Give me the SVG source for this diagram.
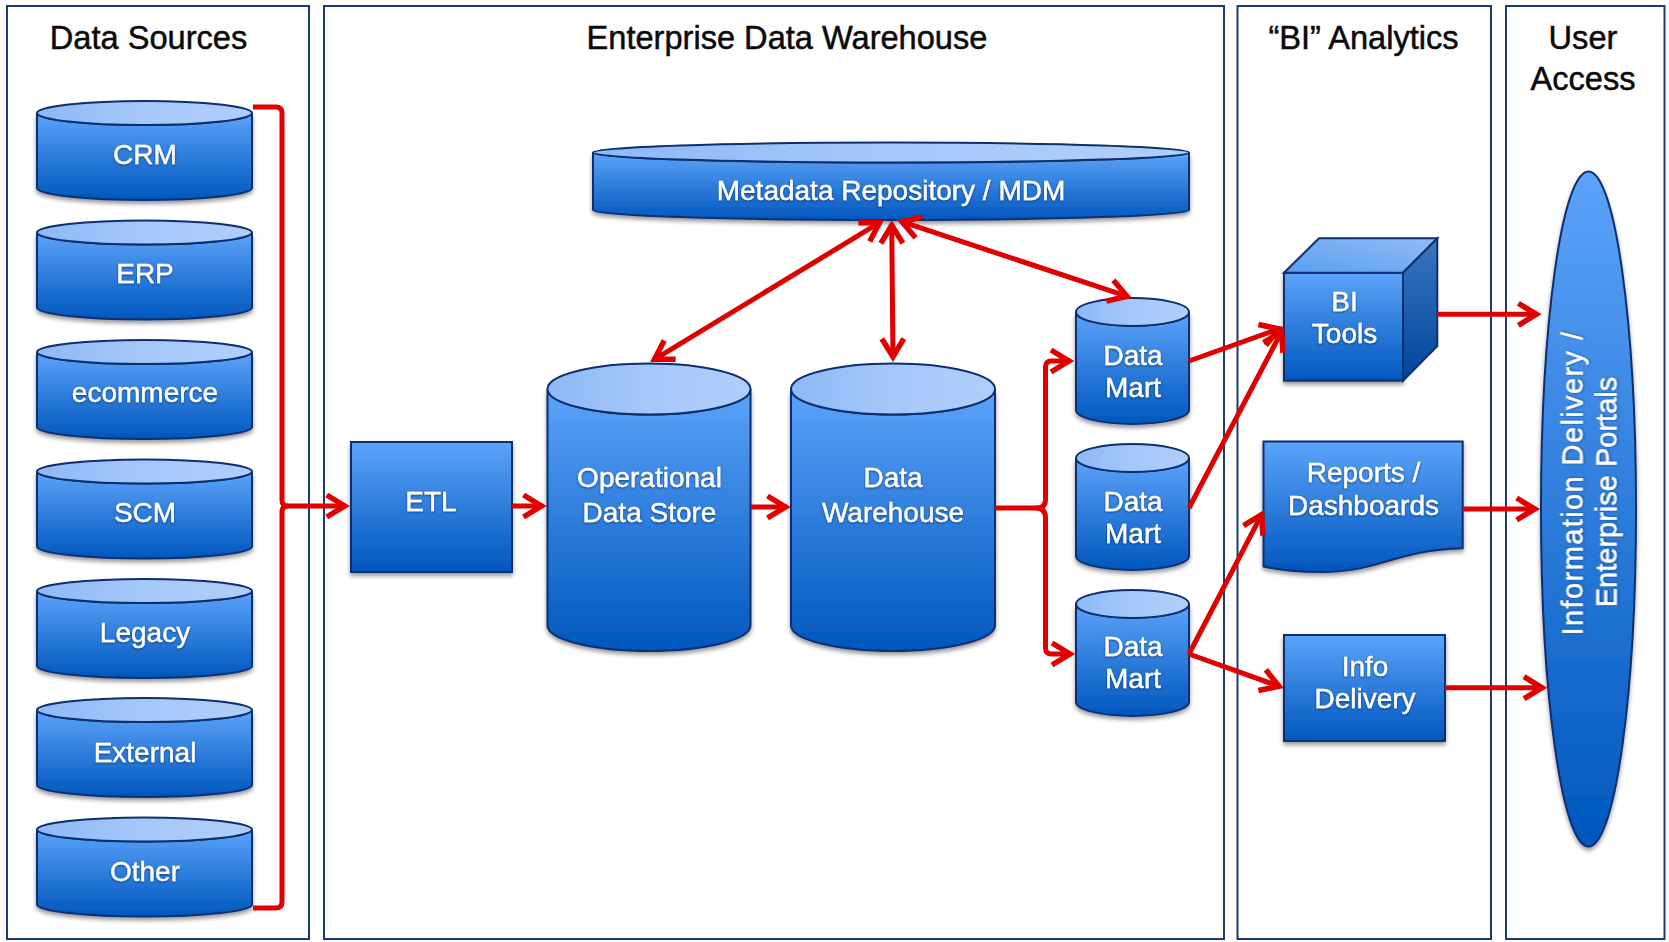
<svg xmlns="http://www.w3.org/2000/svg" width="1669" height="942" viewBox="0 0 1669 942">
<style>
text{font-family:"Liberation Sans",Arial,sans-serif;text-anchor:middle}
.panel{fill:#fff;stroke:#1b3a78;stroke-width:2}
.title{font-size:32.600px;fill:#0a0a0a;stroke:#0a0a0a;stroke-width:.5}
.lbl{font-size:28px;fill:#fff;stroke:#fff;stroke-width:.35;filter:url(#ts)}
.body{fill:url(#bg);stroke:#0d2f70;stroke-width:2;filter:url(#ds)}
.cap{fill:url(#cg);stroke:#0d2f70;stroke-width:2}
.side{fill:url(#sg);stroke:#0d2f70;stroke-width:2}
.top{fill:url(#tg);stroke:#0d2f70;stroke-width:2}
.c{fill:none;stroke:#e00000;stroke-width:5;stroke-linejoin:round}
.a{marker-end:url(#ah)}
.b{marker-end:url(#ah);marker-start:url(#ah)}
</style>
<defs>
<linearGradient id="bg" x1="0" y1="0" x2="0" y2="1"><stop offset="0" stop-color="#5ca3fa"/><stop offset="1" stop-color="#0057bd"/></linearGradient>
<linearGradient id="cg" x1="0" y1="0" x2="1" y2="0"><stop offset="0" stop-color="#8db9f6"/><stop offset=".5" stop-color="#a6c8f9"/><stop offset="1" stop-color="#b0cefa"/></linearGradient>
<linearGradient id="sg" x1="0" y1="0" x2="0" y2="1"><stop offset="0" stop-color="#3b76bf"/><stop offset="1" stop-color="#00459c"/></linearGradient>
<linearGradient id="tg" x1="0" y1="1" x2="1" y2="0"><stop offset="0" stop-color="#5a9ef0"/><stop offset="1" stop-color="#92bcf6"/></linearGradient>
<filter id="ds" x="-10%" y="-10%" width="120%" height="125%"><feDropShadow dx="0" dy="3" stdDeviation="2" flood-color="#000" flood-opacity=".4"/></filter>
<filter id="ts" x="-10%" y="-10%" width="120%" height="130%"><feDropShadow dx="0" dy="1" stdDeviation="1" flood-color="#06306c" flood-opacity=".8"/></filter>
<marker id="ah" viewBox="-20 -14 28 28" markerUnits="userSpaceOnUse" markerWidth="28" markerHeight="28" refX="1" refY="0" orient="auto-start-reverse"><path d="M-18,-11L0,0L-18,11" fill="none" stroke="#e00000" stroke-width="5.500"/></marker>
</defs>
<rect width="1669" height="942" fill="#fff"/>
<g id="panels">
<rect id="panel-sources" class="panel" x="7" y="6" width="302" height="933"/>
<rect id="panel-edw" class="panel" x="324" y="6" width="900" height="933"/>
<rect id="panel-bi" class="panel" x="1237.500" y="6" width="253.500" height="933"/>
<rect id="panel-user" class="panel" x="1506" y="6" width="158.500" height="933"/>
<text class="title" x="148.500" y="49">Data Sources</text>
<text class="title" x="787" y="49">Enterprise Data Warehouse</text>
<text class="title" x="1363.500" y="49">“BI” Analytics</text>
<text class="title" x="1583" y="49">User</text>
<text class="title" x="1583" y="89.500">Access</text>
</g>
<g id="crm"><path class="body" d="M37,113A107.500,12 0 0 0 252,113V188A107.500,12 0 0 1 37,188Z"/><ellipse class="cap" cx="144.500" cy="113" rx="107.500" ry="12"/><text class="lbl" x="145" y="164">CRM</text></g>
<g id="erp"><path class="body" d="M37,232.500A107.500,12 0 0 0 252,232.500V307.500A107.500,12 0 0 1 37,307.500Z"/><ellipse class="cap" cx="144.500" cy="232.500" rx="107.500" ry="12"/><text class="lbl" x="145" y="283">ERP</text></g>
<g id="ecommerce"><path class="body" d="M37,352A107.500,12 0 0 0 252,352V427A107.500,12 0 0 1 37,427Z"/><ellipse class="cap" cx="144.500" cy="352" rx="107.500" ry="12"/><text class="lbl" x="145" y="402">ecommerce</text></g>
<g id="scm"><path class="body" d="M37,471.500A107.500,12 0 0 0 252,471.500V546.500A107.500,12 0 0 1 37,546.500Z"/><ellipse class="cap" cx="144.500" cy="471.500" rx="107.500" ry="12"/><text class="lbl" x="145" y="522">SCM</text></g>
<g id="legacy"><path class="body" d="M37,591A107.500,12 0 0 0 252,591V666A107.500,12 0 0 1 37,666Z"/><ellipse class="cap" cx="144.500" cy="591" rx="107.500" ry="12"/><text class="lbl" x="145" y="642">Legacy</text></g>
<g id="external"><path class="body" d="M37,710A107.500,12 0 0 0 252,710V785A107.500,12 0 0 1 37,785Z"/><ellipse class="cap" cx="144.500" cy="710" rx="107.500" ry="12"/><text class="lbl" x="145" y="762">External</text></g>
<g id="other"><path class="body" d="M37,829.500A107.500,12 0 0 0 252,829.500V904.500A107.500,12 0 0 1 37,904.500Z"/><ellipse class="cap" cx="144.500" cy="829.500" rx="107.500" ry="12"/><text class="lbl" x="145" y="881">Other</text></g>
<g id="etl"><rect class="body" x="351" y="442" width="161" height="130"/><text class="lbl" x="431" y="511">ETL</text></g>
<g id="metadata"><path class="body" d="M593,152.500A298,10 0 0 0 1189,152.500V210A298,10 0 0 1 593,210Z"/><ellipse class="cap" cx="891" cy="152.500" rx="298" ry="10"/><text class="lbl" x="891" y="200">Metadata Repository / MDM</text></g>
<g id="ods"><path class="body" d="M547.500,389A101.500,25.500 0 0 0 750.500,389V625.500A101.500,25.500 0 0 1 547.500,625.500Z"/><ellipse class="cap" cx="649" cy="389" rx="101.500" ry="25.500"/><text class="lbl" x="649.500" y="487">Operational</text><text class="lbl" x="649.500" y="522">Data Store</text></g>
<g id="dw"><path class="body" d="M791,389A102,25.500 0 0 0 995,389V625.500A102,25.500 0 0 1 791,625.500Z"/><ellipse class="cap" cx="893" cy="389" rx="102" ry="25.500"/><text class="lbl" x="893" y="487">Data</text><text class="lbl" x="893" y="522">Warehouse</text></g>
<g id="mart1"><path class="body" d="M1076,312A56.500,14 0 0 0 1189,312V410A56.500,14 0 0 1 1076,410Z"/><ellipse class="cap" cx="1132.500" cy="312" rx="56.500" ry="14"/><text class="lbl" x="1133" y="365">Data</text><text class="lbl" x="1133" y="397">Mart</text></g>
<g id="mart2"><path class="body" d="M1076,458A56.500,14 0 0 0 1189,458V556A56.500,14 0 0 1 1076,556Z"/><ellipse class="cap" cx="1132.500" cy="458" rx="56.500" ry="14"/><text class="lbl" x="1133" y="511">Data</text><text class="lbl" x="1133" y="543">Mart</text></g>
<g id="mart3"><path class="body" d="M1076,604A56.500,14 0 0 0 1189,604V702A56.500,14 0 0 1 1076,702Z"/><ellipse class="cap" cx="1132.500" cy="604" rx="56.500" ry="14"/><text class="lbl" x="1133" y="656">Data</text><text class="lbl" x="1133" y="688">Mart</text></g>
<g id="bi-tools"><rect class="body" x="1284" y="272.700" width="119" height="108"/><path class="top" d="M1284,272.700L1319,238.300H1437.300L1403,272.700Z"/><path class="side" d="M1403,272.700L1437.300,238.300V346L1403,380.700Z"/><text class="lbl" x="1344.500" y="311">BI</text><text class="lbl" x="1344.500" y="343">Tools</text></g>
<g id="reports"><path class="body" d="M1263.500,441.500H1462.700V548.300C1395,550 1380,572 1322,572C1298,572 1280,570 1263.500,566.500Z"/><text class="lbl" x="1363.500" y="482">Reports /</text><text class="lbl" x="1363.500" y="515">Dashboards</text></g>
<g id="info"><rect class="body" x="1284" y="635" width="161" height="106"/><text class="lbl" x="1365" y="676">Info</text><text class="lbl" x="1365" y="708">Delivery</text></g>
<g id="portal"><ellipse class="body" cx="1588.500" cy="509" rx="47.500" ry="337.500"/><text class="lbl" transform="translate(1582.500,483) rotate(-90)" font-size="29" style="font-size:29px;letter-spacing:1.400px">Information Delivery /</text><text class="lbl" transform="translate(1616.500,492) rotate(-90)" style="font-size:29px">Enterprise Portals</text></g>
<g id="connectors">
<path class="c a" d="M253,107H276Q282,107 282,113V500Q282,506 288,506H345.700"/>
<path class="c" d="M253,908H276Q282,908 282,902V512Q282,506 288,506"/>
<path class="c a" d="M512,506H542.500"/>
<path class="c a" d="M751,507H786.500"/>
<path class="c a" d="M995,508H1036Q1045.500,508 1045.500,500V367Q1045.500,361 1051.500,361H1070"/>
<path class="c a" d="M1036,508Q1045.500,508 1045.500,518V648Q1045.500,654 1051.500,654H1071"/>
<path class="c b" d="M653.700,359.800L880.300,222.200"/>
<path class="c b" d="M891.700,224.300L893,357.700"/>
<path class="c b" d="M901,221.400L1128,296.600"/>
<path class="c a" d="M1189,361L1280,328.500"/>
<path class="c a" d="M1189,508L1282,330.800"/>
<path class="c a" d="M1189,654L1262,513.800"/>
<path class="c a" d="M1189,654L1280,686.600"/>
<path class="c a" d="M1437,314.300H1537.400"/>
<path class="c a" d="M1462.700,509H1535.700"/>
<path class="c a" d="M1445,687.700H1543"/>
</g>
</svg>
